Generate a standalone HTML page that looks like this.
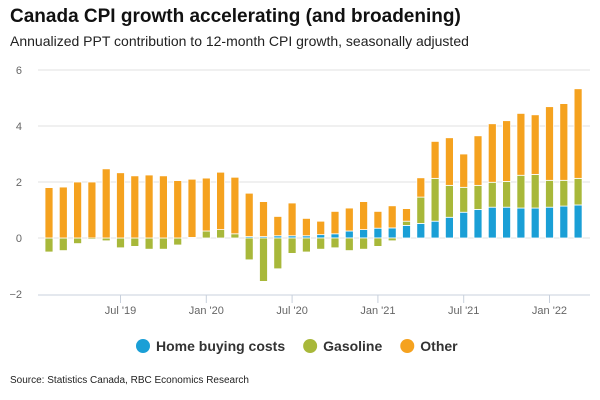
<!DOCTYPE html>
<html><head><meta charset="utf-8"><style>
body{margin:0;width:600px;height:400px;background:#fff;font-family:"Liberation Sans",Arial,sans-serif;overflow:hidden;position:relative}
.t{position:absolute;left:10px;top:6px;font-size:19px;font-weight:bold;color:#111}
.s{position:absolute;left:10px;top:33px;font-size:14px;color:#222}
.src{position:absolute;left:10px;top:375px;font-size:10px;color:#222}
</style></head><body>
<div class="t">Canada CPI growth accelerating (and broadening)</div>
<div class="s">Annualized PPT contribution to 12-month CPI growth, seasonally adjusted</div>
<svg id="c" width="600" height="400" style="position:absolute;left:0;top:0"></svg>
<div class="src">Source: Statistics Canada, RBC Economics Research</div>
<script>
const home=[0,0,0,0,0,0,0,0,0,0,0,0,0,0,0.05,0.05,0.08,0.08,0.08,0.12,0.15,0.25,0.3,0.35,0.36,0.45,0.52,0.6,0.74,0.92,1.02,1.1,1.1,1.07,1.07,1.1,1.14,1.18];
const gas=[-0.5,-0.45,-0.2,-0.05,-0.1,-0.35,-0.3,-0.4,-0.4,-0.25,0.02,0.25,0.3,0.15,-0.78,-1.55,-1.1,-0.55,-0.5,-0.4,-0.35,-0.45,-0.4,-0.3,-0.1,0.15,0.94,1.53,1.14,0.89,0.86,0.89,0.92,1.17,1.2,0.96,0.92,0.95];
const other=[1.8,1.82,2.0,2.0,2.47,2.33,2.22,2.25,2.22,2.05,2.08,1.89,2.05,2.02,1.55,1.25,0.69,1.17,0.62,0.48,0.8,0.82,1.0,0.6,0.79,0.45,0.69,1.32,1.7,1.19,1.77,2.09,2.17,2.21,2.13,2.63,2.74,3.2];
const yTicks=[-2,0,2,4,6];
const xLabels=[[5,"Jul '19"],[11,"Jan '20"],[17,"Jul '20"],[23,"Jan '21"],[29,"Jul '21"],[35,"Jan '22"]];
const legendItems=[["Home buying costs","#1a9fd6"],["Gasoline","#a8b83a"],["Other","#f5a21f"]];
const NS="http://www.w3.org/2000/svg",svg=document.getElementById('c');
const y=v=>238-v*28, x=i=>49+i*14.3;
function mk(t,a,p){const e=document.createElementNS(NS,t);for(const k in a)e.setAttribute(k,a[k]);(p||svg).appendChild(e);return e;}
yTicks.forEach(v=>{
 if(v>-2){const l=mk('line',{x1:38,x2:590,y1:y(v),y2:y(v),stroke:'#e2e2e2','stroke-width':1});
 
 }
 const t=mk('text',{x:22,y:y(v)+4,'text-anchor':'end','font-size':11,fill:'#666'});t.textContent=v<0?'−'+(-v):v;
 
 
});
const ax=mk('line',{x1:38,x2:590,y1:295,y2:295,stroke:'#c8d0dc','stroke-width':1});


xLabels.forEach(([i,s])=>{
 const tk=mk('line',{x1:x(i),x2:x(i),y1:295,y2:303,stroke:'#c8d0dc'});
 
 
 const t=mk('text',{x:x(i),y:314,'text-anchor':'middle','font-size':11,fill:'#666'});t.textContent=s;
 
 
});
function seg(i,a,b,col,n){if(Math.abs(b-a)<0.001)return;const r=mk('rect',{x:x(i)-4,y:y(Math.max(a,b)),width:8,height:Math.abs(y(a)-y(b)),fill:col,stroke:'#fff','stroke-width':0.8});
 
 }
home.forEach((h,i)=>{
 seg(i,0,h,'#1a9fd6','bar-home-buying');
 let top=h;
 if(gas[i]>=0){seg(i,top,top+gas[i],'#a8b83a','bar-gasoline');top+=gas[i];}
 else seg(i,0,gas[i],'#a8b83a','bar-gasoline');
 seg(i,top,top+other[i],'#f5a21f','bar-other');
});
let lx=136;
legendItems.forEach(([s,c])=>{
 const g=mk('g',{});
 
 
 mk('circle',{cx:lx+7,cy:346,r:7,fill:c},g);
 const t=mk('text',{x:lx+20,y:351,'font-size':14,'font-weight':'bold',fill:'#333'},g);t.textContent=s;
 lx+=20+t.getComputedTextLength()+18;
});
</script>
</body></html>
